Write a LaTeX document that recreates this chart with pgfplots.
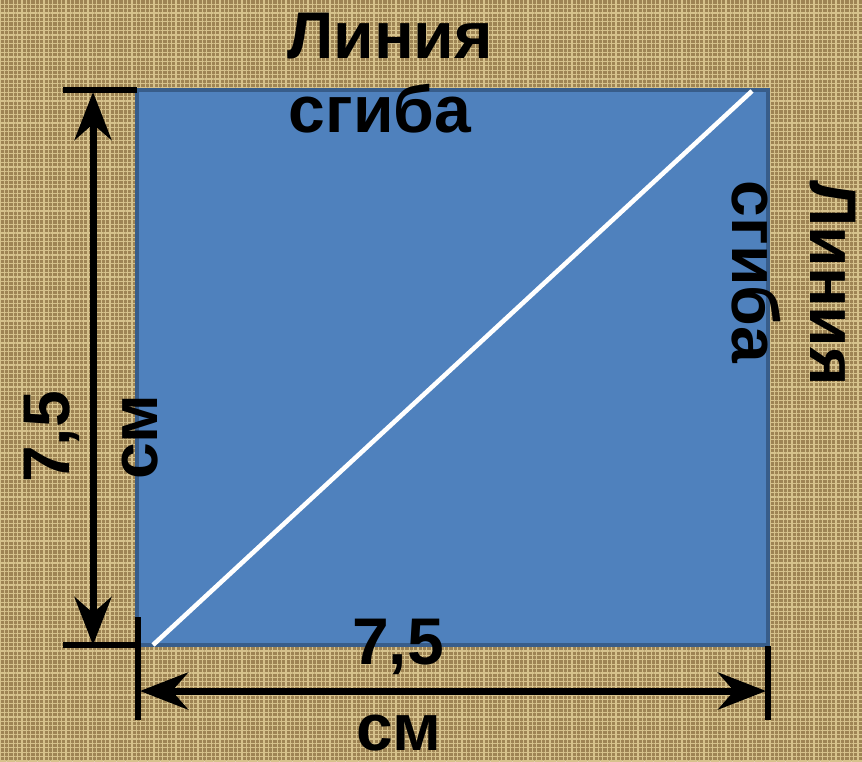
\documentclass[border=0pt]{standalone}
\usepackage{pgfplots}
\pgfplotsset{compat=1.18}
\usetikzlibrary{arrows.meta,patterns.meta}
\usepackage{fontspec}
\setmainfont{Liberation Sans}
\definecolor{burlap}{RGB}{158,132,84}
\definecolor{thread}{RGB}{214,194,140}
\definecolor{sqblue}{RGB}{79,129,189}
\definecolor{sqedge}{RGB}{56,93,138}
\newcommand{\tfont}{\fontsize{33}{38}\selectfont\bfseries}
\begin{document}
\begin{tikzpicture}
\begin{axis}[
  width=431pt, height=380.5pt, scale only axis, hide axis,
  xmin=0, xmax=862, ymin=0, ymax=761, y dir=reverse, clip=false]
% background (burlap)
\addplot[fill=burlap, draw=none] coordinates {(0,0) (862,0) (862,761) (0,761) (0,0)};
\addplot[draw=none, pattern={Lines[angle=0,distance=2.2pt,line width=0.55pt]}, pattern color=thread] coordinates {(0,0) (862,0) (862,761) (0,761) (0,0)};
\addplot[draw=none, pattern={Lines[angle=90,distance=2.2pt,line width=0.55pt]}, pattern color=thread] coordinates {(0,0) (862,0) (862,761) (0,761) (0,0)};
% square
\addplot[fill=sqblue, draw=sqedge, line width=2pt, line join=miter] coordinates {(137,90) (768,90) (768,645) (137,645) (137,90)};
% fold diagonal
\addplot[white, line width=2.3pt] coordinates {(153,645) (752,91)};
% left dimension
\addplot[black, line width=3pt] coordinates {(63,90) (137,90)};
\addplot[black, line width=3pt] coordinates {(63,645) (137,645)};
\addplot[black, line width=3.5pt, {Stealth[length=24pt,width=18.5pt,inset=8pt]}-{Stealth[length=24pt,width=18.5pt,inset=8pt]}] coordinates {(93,92) (93,645)};
% bottom dimension
\addplot[black, line width=3pt] coordinates {(138,617) (138,720)};
\addplot[black, line width=3pt] coordinates {(768,646) (768,720)};
\addplot[black, line width=3.5pt, {Stealth[length=24pt,width=18.5pt,inset=8pt]}-{Stealth[length=24pt,width=18.5pt,inset=8pt]}] coordinates {(140,691) (766,691)};
% texts
\node[anchor=base, inner sep=0pt, font=\tfont] at (axis cs:390,58) {Линия};
\node[anchor=base, inner sep=0pt, font=\tfont] at (axis cs:380,132) {сгиба};
\node[anchor=base, inner sep=0pt, font=\tfont, rotate=-90] at (axis cs:810,283) {Линия};
\node[anchor=base, inner sep=0pt, font=\tfont, rotate=-90] at (axis cs:732,272) {сгиба};
\node[anchor=base, inner sep=0pt, font=\tfont, rotate=90] at (axis cs:69,437) {7,5};
\node[anchor=base, inner sep=0pt, font=\tfont, rotate=90] at (axis cs:157,437) {см};
\node[anchor=base, inner sep=0pt, font=\tfont] at (axis cs:398,664) {7,5};
\node[anchor=base, inner sep=0pt, font=\tfont] at (axis cs:399,750) {см};
\end{axis}
\end{tikzpicture}
\end{document}
